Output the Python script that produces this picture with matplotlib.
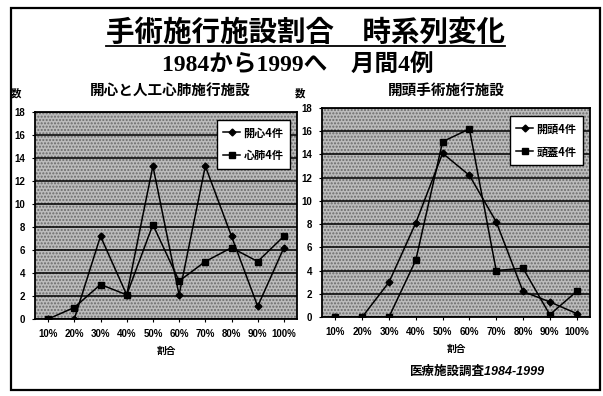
import matplotlib
matplotlib.use('Agg')
import matplotlib.pyplot as plt
from matplotlib.patches import Rectangle
from matplotlib.lines import Line2D
import numpy as np

plt.rcParams['font.family'] = ['Liberation Sans', 'Noto Sans CJK JP']
plt.rcParams['font.weight'] = 'bold'

ratios = ['10%', '20%', '30%', '40%', '50%', '60%', '70%', '80%', '90%', '100%']

# open heart / heart-lung machine
heart_open = [0, 0, 7.2, 2.1, 13.3, 2.1, 13.3, 7.2, 1.1, 6.2]
heart_lung = [0, 1.0, 3.0, 2.1, 8.2, 3.3, 5.0, 6.2, 5.0, 7.2]
heart_labels = ['開心4件', '心肺4件']

# craniotomy
cranio_a = [0, 0, 3.0, 8.1, 14.1, 12.2, 8.2, 2.2, 1.3, 0.3]
cranio_b = [0, 0, 0, 4.9, 15.1, 16.2, 4.0, 4.2, 0.2, 2.2]
cranio_labels = ['開頭4件', '頭蓋4件']

W, H = 603, 396
fig = plt.figure(figsize=(W / 100, H / 100), dpi=100)
fig.patch.set_facecolor('white')


def fx(px):
    return px / W


def fy(py):
    return 1 - py / H


# outer frame
fig.patches.append(Rectangle((fx(11), fy(390)), fx(600) - fx(11), fy(8) - fy(390),
                             transform=fig.transFigure, fill=False,
                             edgecolor='black', linewidth=1.6))

title = fig.text(fx(305), fy(33), '手術施行施設割合\u3000時系列変化', ha='center', va='center',
                 fontsize=20.5, fontweight='bold', family=['Noto Sans CJK JP'])
fig.text(fx(298), fy(65), '1984から1999へ\u3000月間4例', ha='center', va='center',
         fontsize=17, fontweight='bold', family=['Liberation Serif', 'Noto Sans CJK JP'])

# underline the main title
fig.canvas.draw()
bb = title.get_window_extent(fig.canvas.get_renderer())
fig.add_artist(Line2D([bb.x0 / W, bb.x1 / W], [fy(46), fy(46)], transform=fig.transFigure,
                      color='black', linewidth=1.3))


def draw_panel(rect, s1, s2, labels, subtitle, sub_x, num_x, legend_anchor):
    ax = fig.add_axes(rect)
    x = np.arange(len(ratios))
    ax.set_facecolor('#bcbcbc')
    ax.add_patch(Rectangle((0, 0), 1, 1, transform=ax.transAxes, facecolor='none',
                           edgecolor='#6a6a6a', hatch='.....', linewidth=0, zorder=0))
    ax.plot(x, s1, color='black', linewidth=1.1, marker='D', markersize=3.5, label=labels[0], zorder=3)
    ax.plot(x, s2, color='black', linewidth=1.1, marker='s', markersize=4, label=labels[1], zorder=3)
    ax.set_xlim(-0.5, len(ratios) - 0.5)
    ax.set_ylim(0, 18)
    ax.set_yticks(range(0, 19, 2))
    ax.set_xticks(x)
    ax.set_xticklabels(ratios)
    ax.tick_params(labelsize=7, length=2, width=0.8, pad=5)
    ax.yaxis.grid(True, color='black', linewidth=1.1)
    ax.set_axisbelow(False)
    for sp in ax.spines.values():
        sp.set_linewidth(1.3)
    for t in ax.get_xticklabels() + ax.get_yticklabels():
        t.set_fontweight('bold')
    ax.set_xlabel('割合', fontsize=7, fontweight='bold', labelpad=5)
    leg = ax.legend(loc='upper right', bbox_to_anchor=legend_anchor, fancybox=False,
                    framealpha=1, edgecolor='black', handlelength=1.5,
                    handletextpad=0.3, borderpad=0.6, labelspacing=0.9,
                    prop={'family': ['Noto Sans CJK JP'], 'weight': 'bold', 'size': 8})
    leg.get_frame().set_linewidth(1.0)
    fig.text(fx(sub_x), fy(91), subtitle, ha='center', va='center', fontsize=10.5,
             fontweight='bold', family=['Noto Sans CJK JP'])
    fig.text(fx(num_x), fy(93), '数', ha='center', va='center', fontsize=7.5,
             fontweight='bold', family=['Noto Sans CJK JP'])
    return ax


draw_panel([fx(35), fy(319), fx(297) - fx(35), fy(112) - fy(319)],
           heart_open, heart_lung, heart_labels, '開心と人工心肺施行施設', 170, 16, (0.995, 0.99))
draw_panel([fx(322), fy(317), fx(590) - fx(322), fy(108) - fy(317)],
           cranio_a, cranio_b, cranio_labels, '開頭手術施行施設', 446, 300, (0.995, 0.99))

fig.text(fx(478), fy(372), '医療施設調査1984-1999', ha='center', va='center', fontsize=9,
         fontweight='bold', fontstyle='italic', family=['Liberation Sans', 'Noto Sans CJK JP'])

fig.savefig('out.png', dpi=100)
